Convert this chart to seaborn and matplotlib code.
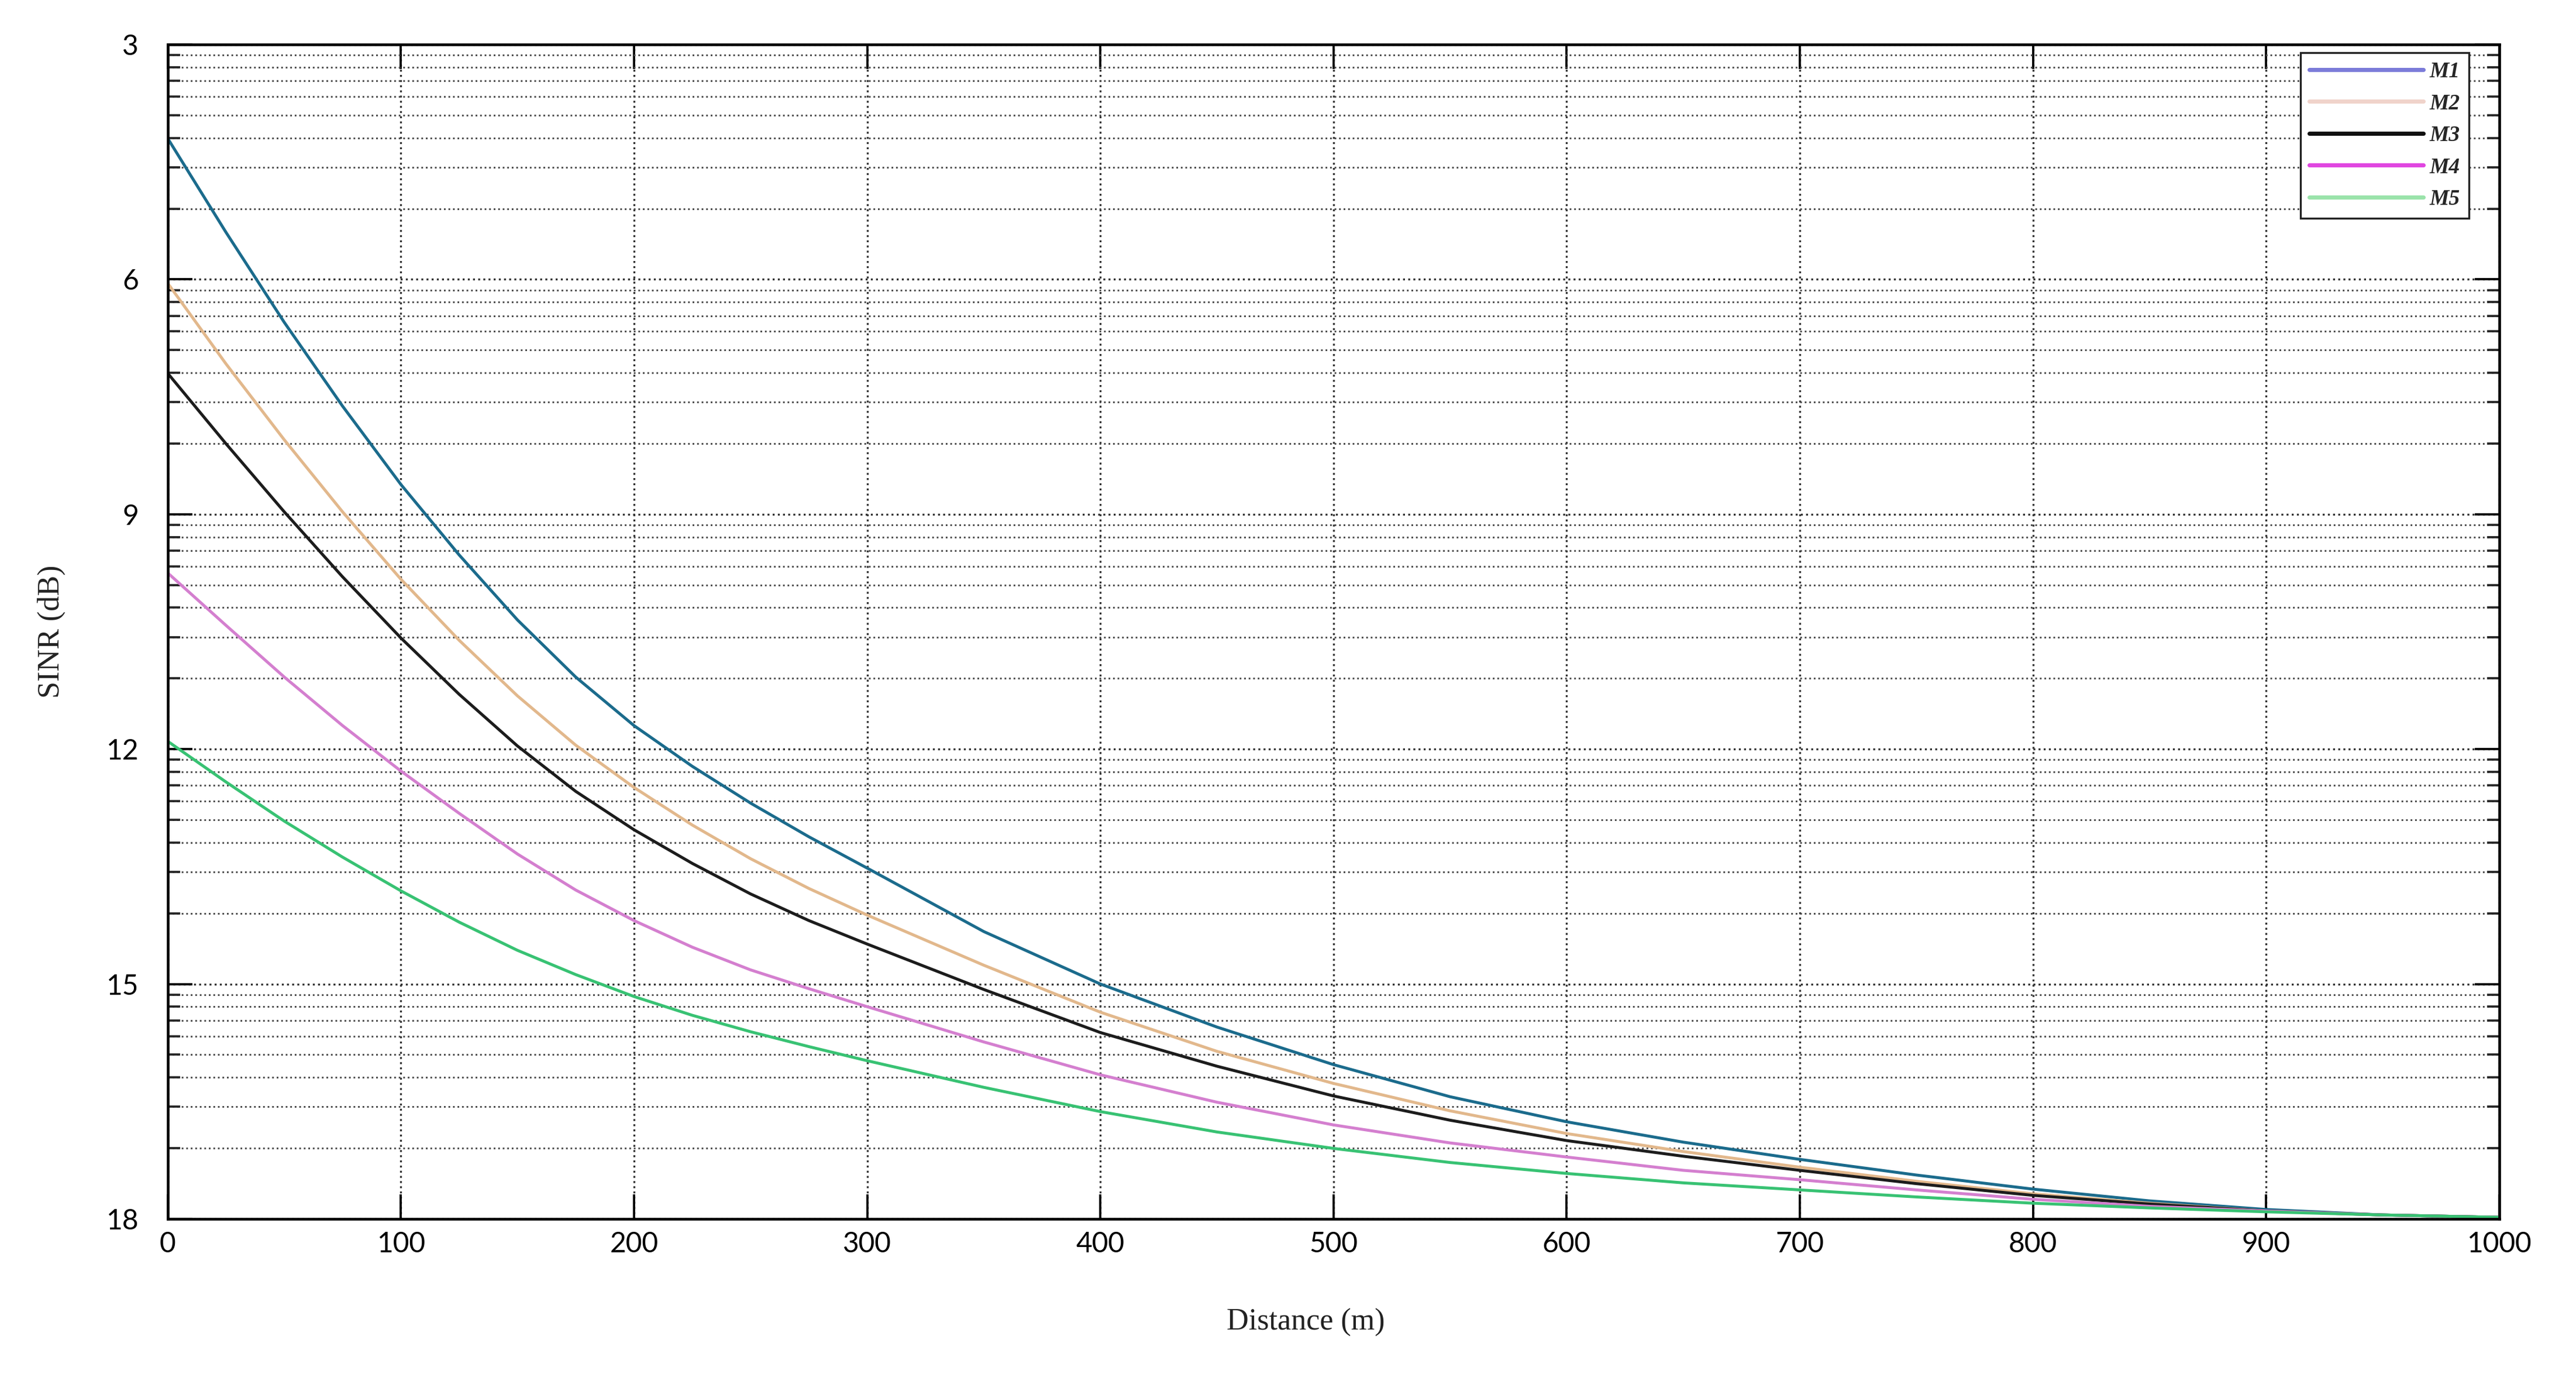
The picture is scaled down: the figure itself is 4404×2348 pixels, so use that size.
import numpy as np
import pandas as pd
import seaborn as sns
import matplotlib
matplotlib.use("Agg")
from matplotlib import pyplot as plt
from matplotlib.lines import Line2D

# distance (m) and SINR readings (dB) for each model
distance = [0, 25, 50, 75, 100, 125, 150, 175, 200, 225, 250, 275, 300,
            350, 400, 450, 500, 550, 600, 650, 700, 750, 800, 850, 900, 950, 1000]
m1 = [4.20, 5.40, 6.55, 7.62, 8.62, 9.52, 10.35, 11.08, 11.70, 12.22, 12.69, 13.12, 13.52,
      14.33, 15.00, 15.55, 16.03, 16.44, 16.76, 17.02, 17.24, 17.44, 17.62, 17.77, 17.88, 17.95, 17.98]
m2 = [6.05, 7.08, 8.05, 8.97, 9.83, 10.61, 11.32, 11.95, 12.49, 12.97, 13.40, 13.78, 14.12,
      14.76, 15.36, 15.86, 16.27, 16.62, 16.91, 17.14, 17.34, 17.52, 17.68, 17.80, 17.90, 17.95, 17.98]
m3 = [7.20, 8.10, 8.97, 9.80, 10.58, 11.30, 11.96, 12.54, 13.03, 13.46, 13.85, 14.19, 14.49,
      15.07, 15.62, 16.05, 16.43, 16.74, 17.00, 17.20, 17.38, 17.55, 17.70, 17.81, 17.90, 17.95, 17.98]
m4 = [9.75, 10.42, 11.08, 11.70, 12.28, 12.82, 13.34, 13.80, 14.19, 14.53, 14.82, 15.06, 15.29,
      15.74, 16.16, 16.51, 16.80, 17.03, 17.21, 17.38, 17.50, 17.63, 17.75, 17.84, 17.90, 17.95, 17.98]
m5 = [11.90, 12.42, 12.92, 13.38, 13.81, 14.21, 14.57, 14.88, 15.16, 15.40, 15.61, 15.80, 15.98,
      16.32, 16.63, 16.89, 17.10, 17.28, 17.42, 17.54, 17.63, 17.72, 17.80, 17.86, 17.91, 17.95, 17.98]

models = ["M1", "M2", "M3", "M4", "M5"]
line_colors = {"M1": "#1b6b8c", "M2": "#e2b88c", "M3": "#1c1c1c",
               "M4": "#d47fcf", "M5": "#38c273"}
legend_colors = ["#7b7bd9", "#f0d3cb", "#111111", "#e046e0", "#9ae3aa"]

x_ticks = [0, 100, 200, 300, 400, 500, 600, 700, 800, 900, 1000]
y_ticks = [3, 6, 9, 12, 15, 18]

df = pd.DataFrame({"Distance": distance * 5,
                   "SINR": m1 + m2 + m3 + m4 + m5,
                   "Model": [m for m in models for _ in distance]})

sns.set_style("white")
plt.rcParams["font.family"] = ["Liberation Sans Narrow", "Lato", "DejaVu Sans"]

fig = plt.figure(figsize=(14.683, 7.827), dpi=300)
ax = fig.add_axes([0.0651, 0.1129, 0.9049, 0.8547])

sns.lineplot(data=df, x="Distance", y="SINR", hue="Model", palette=line_colors,
             linewidth=1.2, legend=False, ax=ax)

ax.set_xlim(0, 1000)
ax.set_ylim(18, 3)
ax.set_xticks(x_ticks)
ax.set_yticks(y_ticks)
# log-style minor lines inside every 3 dB step
minor = [b - 3 * np.log10(k) for b in y_ticks[1:] for k in range(2, 10)]
ax.set_yticks(minor, minor=True)

ax.grid(True, which="major", axis="both", linestyle=":", color="#333333", linewidth=0.8)
ax.grid(True, which="minor", axis="y", linestyle=":", color="#4a4a4a", linewidth=0.7)

for s in ax.spines.values():
    s.set_color("black")
    s.set_linewidth(1.1)

ax.tick_params(axis="x", which="major", direction="in", top=True, bottom=True,
               length=10, width=0.9, pad=5, labelsize=11.5, colors="black")
ax.tick_params(axis="y", which="major", direction="in", left=True, right=True,
               length=10, width=0.9, pad=12, labelsize=11.5, colors="black")
ax.tick_params(axis="y", which="minor", direction="in", left=True, right=True,
               length=5, width=0.9)

ax.set_xlabel("Distance (m)", fontsize=12.5, family="Liberation Serif", color="#222222")
ax.set_ylabel("SINR (dB)", fontsize=12.5, family="Liberation Serif", color="#222222")
ax.xaxis.set_label_coords(0.488, -0.076)
ax.yaxis.set_label_coords(-0.0439, 0.5)

handles = [Line2D([], [], color=c, linewidth=1.7) for c in legend_colors]
leg = ax.legend(handles, models, loc="upper right", bbox_to_anchor=(0.987, 0.993),
                borderaxespad=0, handlelength=5.2, handletextpad=0.3, labelspacing=0.52,
                borderpad=0.4, fancybox=False, framealpha=1, edgecolor="#222222",
                prop={"family": "Liberation Serif", "weight": "bold",
                      "style": "italic", "size": 9})
leg.get_frame().set_linewidth(0.8)

fig.savefig("out.png", dpi=300)
